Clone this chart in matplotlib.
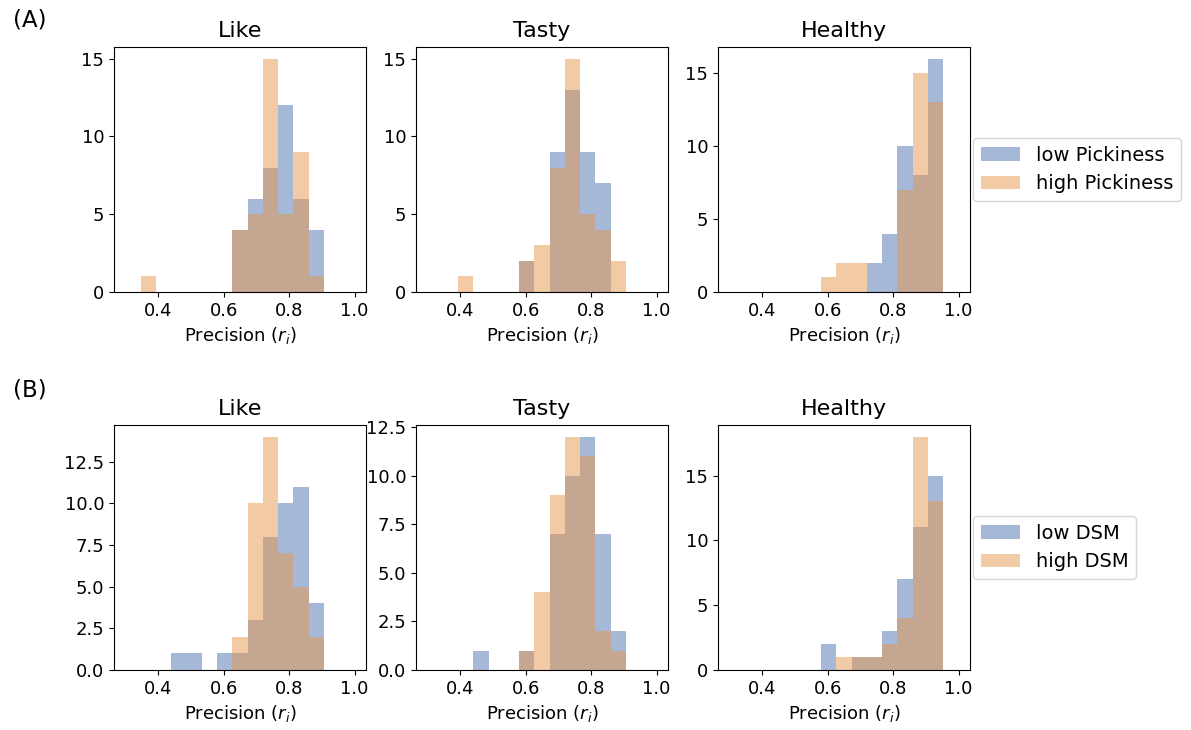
import numpy as np
import matplotlib
matplotlib.use('Agg')
import matplotlib.pyplot as plt

# 15 equal bins between 0.3 and 1.0
bin_edges = np.linspace(0.3, 1.0, 16)
bin_centers = (bin_edges[:-1] + bin_edges[1:]) / 2

panel_titles = ['Like', 'Tasty', 'Healthy']

# (A) pickiness, counts per bin
like_low_pick = [0, 0, 0, 0, 0, 0, 0, 4, 6, 8, 12, 6, 4, 0, 0]
like_high_pick = [0, 1, 0, 0, 0, 0, 0, 4, 5, 15, 5, 9, 1, 0, 0]
tasty_low_pick = [0, 0, 0, 0, 0, 0, 2, 0, 9, 13, 9, 7, 0, 0, 0]
tasty_high_pick = [0, 0, 1, 0, 0, 0, 2, 3, 8, 15, 5, 4, 2, 0, 0]
healthy_low_pick = [0, 0, 0, 0, 0, 0, 0, 0, 0, 2, 4, 10, 8, 16, 0]
healthy_high_pick = [0, 0, 0, 0, 0, 0, 1, 2, 2, 0, 0, 7, 15, 13, 0]

# (B) DSM, counts per bin
like_low_dsm = [0, 0, 0, 1, 1, 0, 1, 1, 3, 8, 10, 11, 4, 0, 0]
like_high_dsm = [0, 0, 0, 0, 0, 0, 0, 2, 10, 14, 7, 5, 2, 0, 0]
tasty_low_dsm = [0, 0, 0, 1, 0, 0, 1, 0, 7, 10, 12, 7, 2, 0, 0]
tasty_high_dsm = [0, 0, 0, 0, 0, 0, 1, 4, 9, 12, 11, 2, 1, 0, 0]
healthy_low_dsm = [0, 0, 0, 0, 0, 0, 2, 0, 1, 1, 3, 7, 11, 15, 0]
healthy_high_dsm = [0, 0, 0, 0, 0, 0, 0, 1, 1, 1, 2, 4, 18, 13, 0]

rows = [
    ('(A)', ['low Pickiness', 'high Pickiness'],
     [(like_low_pick, like_high_pick), (tasty_low_pick, tasty_high_pick),
      (healthy_low_pick, healthy_high_pick)]),
    ('(B)', ['low DSM', 'high DSM'],
     [(like_low_dsm, like_high_dsm), (tasty_low_dsm, tasty_high_dsm),
      (healthy_low_dsm, healthy_high_dsm)]),
]

blue = '#4C72B0'
orange = '#E6964C'

W, H = 1191, 730
fig = plt.figure(figsize=(W / 100, H / 100), dpi=100)

lefts = [114, 416, 718]
ax_w = 252
ax_h = 245
tops = [47, 425]
tag_y = [20, 390]

for r, (tag, labels, data) in enumerate(rows):
    for c, (low, high) in enumerate(data):
        ax = fig.add_axes([lefts[c] / W, (H - tops[r] - ax_h) / H, ax_w / W, ax_h / H])
        ax.hist(bin_centers, bins=bin_edges, weights=low, color=blue, alpha=0.5, label=labels[0])
        ax.hist(bin_centers, bins=bin_edges, weights=high, color=orange, alpha=0.5, label=labels[1])
        ax.set_xticks([0.4, 0.6, 0.8, 1.0])
        ax.tick_params(labelsize=13)
        ax.set_xlabel('Precision ($r_i$)', fontsize=13)
        ax.set_title(panel_titles[c], fontsize=16, pad=7)
        if c == 2:
            ax.legend(loc='center left', bbox_to_anchor=(0.975, 0.5), fontsize=14)
    fig.text(13 / W, 1 - tag_y[r] / H, tag, fontsize=16.5, va='center', ha='left')

fig.savefig('out.png', dpi=100)
